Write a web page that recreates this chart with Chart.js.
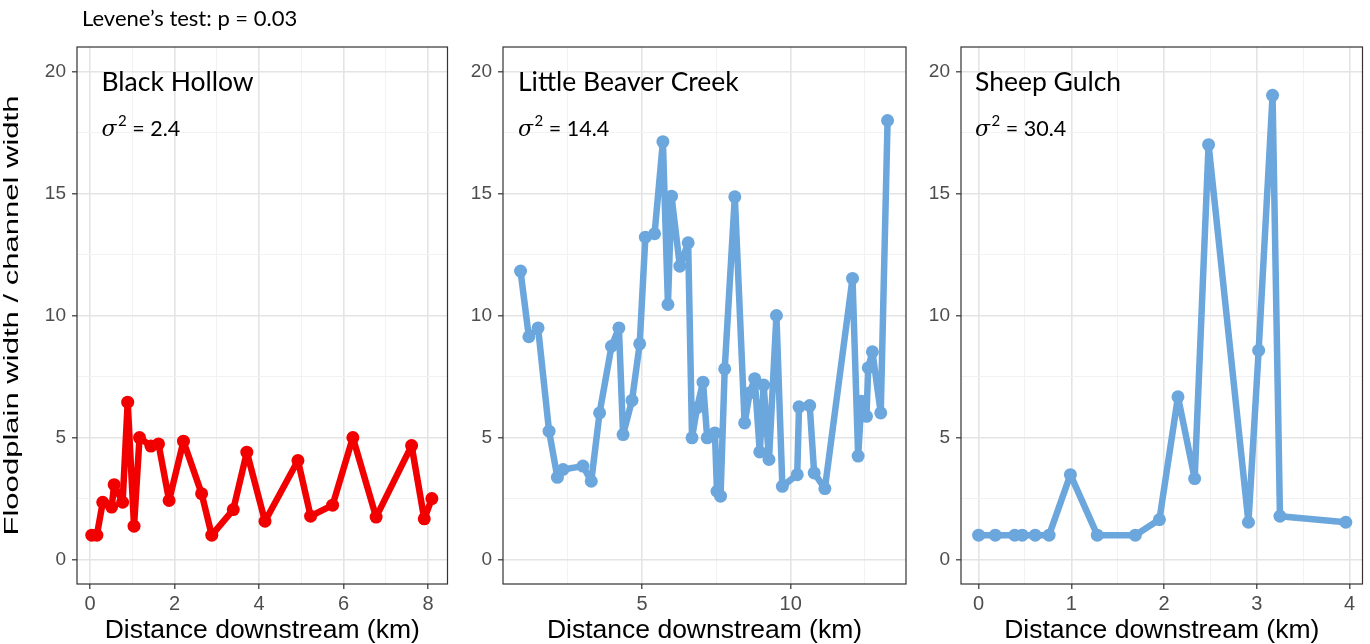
<!DOCTYPE html>
<html>
<head>
<meta charset="utf-8">
<script src="https://cdn.jsdelivr.net/npm/chart.js@4/dist/chart.umd.min.js"></script>
<style>
  html, body { margin: 0; padding: 0; background: #fff; }
  body { width: 1370px; height: 644px; position: relative; overflow: hidden; }
  .panel { position: absolute; top: 0; height: 644px; }
  .panel canvas { display: block; }
</style>
</head>
<body>
<div class="panel" id="p1" style="left:0px;width:455px;"><canvas id="c1"></canvas></div>
<div class="panel" id="p2" style="left:455px;width:460px;"><canvas id="c2"></canvas></div>
<div class="panel" id="p3" style="left:915px;width:455px;"><canvas id="c3"></canvas></div>
<script>
// ---------------- data ----------------
const panelNames = ['Black Hollow', 'Little Beaver Creek', 'Sheep Gulch'];
const panelVariances = ['2.4', '14.4', '30.4'];
const headerText = 'Levene\u2019s test: p = 0.03';
const yTitle = 'Floodplain width / channel width';
const xTitle = 'Distance downstream (km)';

const yTicks = [0, 5, 10, 15, 20];
const yMinorTicks = [2.5, 7.5, 12.5, 17.5];

const bhTicks = [0, 2, 4, 6, 8];
const bhMinorTicks = [1, 3, 5, 7];
const lbTicks = [5, 10];
const lbMinorTicks = [2.5, 7.5, 12.5];
const sgTicks = [0, 1, 2, 3, 4];
const sgMinorTicks = [0.5, 1.5, 2.5, 3.5];

// Black Hollow
const bhX = [0.04,0.16,0.30,0.51,0.57,0.77,0.89,1.04,1.17,1.44,1.62,1.87,2.21,2.64,2.88,3.39,3.71,4.14,4.92,5.22,5.74,6.22,6.77,7.61,7.91,8.09];
const bhY = [1.0,1.0,2.35,2.15,3.07,2.35,6.45,1.37,5.0,4.65,4.74,2.42,4.85,2.70,1.0,2.05,4.40,1.57,4.06,1.78,2.23,5.0,1.74,4.67,1.67,2.50];

// Little Beaver Creek
const lbX = [0.91,1.19,1.50,1.87,2.15,2.34,3.01,3.29,3.57,3.97,4.22,4.36,4.66,4.92,5.11,5.42,5.70,5.87,5.99,6.27,6.55,6.68,6.85,7.05,7.19,7.45,7.52,7.64,7.78,8.12,8.45,8.62,8.79,8.96,9.09,9.27,9.52,9.72,10.22,10.28,10.64,10.79,11.15,12.08,12.27,12.38,12.55,12.61,12.75,13.03,13.26];
const lbY = [11.82,9.13,9.49,5.26,3.37,3.69,3.83,3.21,6.01,8.74,9.49,5.12,6.52,8.84,13.21,13.35,17.12,10.45,14.89,12.02,12.98,4.99,6.22,7.27,4.99,5.19,2.80,2.60,7.81,14.86,5.60,6.83,7.41,4.41,7.15,4.10,10.0,3.0,3.48,6.26,6.31,3.55,2.91,11.52,4.24,6.49,5.87,7.86,8.51,6.01,17.99];

// Sheep Gulch
const sgX = [0.0,0.18,0.39,0.47,0.61,0.76,0.99,1.28,1.69,1.95,2.15,2.33,2.48,2.91,3.02,3.17,3.25,3.96];
const sgY = [1.0,1.0,1.0,1.0,1.0,1.0,3.48,1.0,1.0,1.64,6.67,3.32,17.0,1.53,8.57,19.02,1.78,1.53];

// ---------------- helpers ----------------
Chart.defaults.font.family = '"Liberation Sans", Arial, sans-serif';
Chart.defaults.animation = false;

const RED = '#f20000';
const BLUE = '#6ba6dc';

function pairs(xs, ys) { return xs.map((x, i) => ({ x: x, y: ys[i] })); }

function tickSetter(major, minor) {
  return function (scale) {
    const all = major.map(v => ({ value: v, minor: false }))
      .concat(minor.map(v => ({ value: v, minor: true })));
    all.sort((a, b) => a.value - b.value);
    scale.ticks = all;
  };
}

const gridOpts = {
  color: ctx => (ctx.tick && ctx.tick.minor) ? '#f2f2f2' : '#e4e4e4',
  lineWidth: ctx => (ctx.tick && ctx.tick.minor) ? 1 : 1.6,
  tickColor: ctx => (ctx.tick && ctx.tick.minor) ? 'rgba(0,0,0,0)' : '#333333',
  tickWidth: 1.2,
  tickLength: 5,
  drawTicks: true
};

const panelTextPlugin = {
  id: 'panelText',
  afterDraw(chart, args, opts) {
    const ctx = chart.ctx;
    const a = chart.chartArea;
    ctx.save();
    // panel border
    ctx.strokeStyle = '#333333';
    ctx.lineWidth = 1.2;
    ctx.strokeRect(a.left, a.top, a.right - a.left, a.bottom - a.top);
    // panel name
    ctx.fillStyle = '#000';
    ctx.textBaseline = 'alphabetic';
    ctx.textAlign = 'left';
    const x0 = a.left + opts.dx;
    ctx.font = '26.5px Lato, "Open Sans", sans-serif';
    ctx.fillText(opts.name, x0, 91);
    // sigma^2 = value
    let x = x0;
    ctx.font = 'italic 22px "DejaVu Serif", serif';
    ctx.fillText('\u03c3', x, 136);
    x += ctx.measureText('\u03c3').width + 1.5;
    ctx.font = '15px Lato, sans-serif';
    ctx.fillText('2', x, 126);
    x += ctx.measureText('2').width;
    ctx.font = '21.5px Lato, sans-serif';
    ctx.fillText(' = ' + opts.variance, x, 136);
    if (opts.header) {
      ctx.font = '22px Lato, sans-serif';
      ctx.fillText(opts.header, 82, 26);
    }
    if (opts.yTitle) {
      ctx.save();
      ctx.translate(12.5, (a.top + a.bottom) / 2);
      ctx.rotate(-Math.PI / 2);
      ctx.font = '21px "Liberation Sans", Arial, sans-serif';
      const w = ctx.measureText(opts.yTitle).width;
      ctx.scale(440 / w, 1);
      ctx.textAlign = 'center';
      ctx.textBaseline = 'middle';
      ctx.fillText(opts.yTitle, 0, 0);
      ctx.restore();
    }
    ctx.restore();
  }
};

function makeChart(canvasId, cfg) {
  const yAxisWidth = cfg.yWidth;
  return new Chart(document.getElementById(canvasId), {
    type: 'scatter',
    data: {
      datasets: [{
        data: pairs(cfg.xs, cfg.ys),
        showLine: true,
        borderColor: cfg.color,
        backgroundColor: cfg.color,
        borderWidth: 6.5,
        pointRadius: 6.5,
        pointBorderWidth: 0,
        pointHoverRadius: 6.5,
        tension: 0,
        borderJoinStyle: 'round',
        borderCapStyle: 'round'
      }]
    },
    options: {
      responsive: true,
      maintainAspectRatio: false,
      events: [],
      layout: { padding: { top: 47, right: cfg.padRight, left: 0, bottom: 0 } },
      plugins: {
        legend: { display: false },
        tooltip: { enabled: false },
        panelText: { name: cfg.name, variance: cfg.variance, dx: cfg.dx, header: cfg.header, yTitle: cfg.yTitle }
      },
      scales: {
        x: {
          type: 'linear',
          min: cfg.xMin, max: cfg.xMax,
          afterBuildTicks: tickSetter(cfg.xMajor, cfg.xMinor),
          afterFit: s => { s.height = 60; },
          grid: gridOpts,
          border: { display: false },
          ticks: {
            autoSkip: false, maxRotation: 0, padding: 3,
            color: '#4d4d4d', font: { size: 20 },
            callback: function (v, i, ticks) { return ticks[i].minor ? '' : String(v); }
          },
          title: {
            display: true, text: xTitle, color: '#000',
            font: { size: 26.5 }, padding: { top: 0, bottom: -3 }
          }
        },
        y: {
          type: 'linear',
          min: -1, max: 21,
          afterBuildTicks: tickSetter(yTicks, yMinorTicks),
          afterFit: s => { s.width = yAxisWidth; },
          grid: gridOpts,
          border: { display: false },
          ticks: {
            autoSkip: false, padding: 6,
            color: '#4d4d4d', font: { size: 19 },
            callback: function (v, i, ticks) { return ticks[i].minor ? '' : String(v); }
          }
        }
      }
    },
    plugins: [panelTextPlugin]
  });
}

makeChart('c1', {
  xs: bhX, ys: bhY, color: RED, name: panelNames[0], variance: panelVariances[0],
  dx: 24.5, header: headerText, yTitle: yTitle, yWidth: 77, padRight: 7.5,
  xMin: -0.31, xMax: 8.46, xMajor: bhTicks, xMinor: bhMinorTicks
});
makeChart('c2', {
  xs: lbX, ys: lbY, color: BLUE, name: panelNames[1], variance: panelVariances[1],
  dx: 15, header: null, yTitle: null, yWidth: 48, padRight: 9,
  xMin: 0.32, xMax: 13.88, xMajor: lbTicks, xMinor: lbMinorTicks
});
makeChart('c3', {
  xs: sgX, ys: sgY, color: BLUE, name: panelNames[2], variance: panelVariances[2],
  dx: 14, header: null, yTitle: null, yWidth: 46, padRight: 7.5,
  xMin: -0.19, xMax: 4.14, xMajor: sgTicks, xMinor: sgMinorTicks
});
</script>
</body>
</html>
